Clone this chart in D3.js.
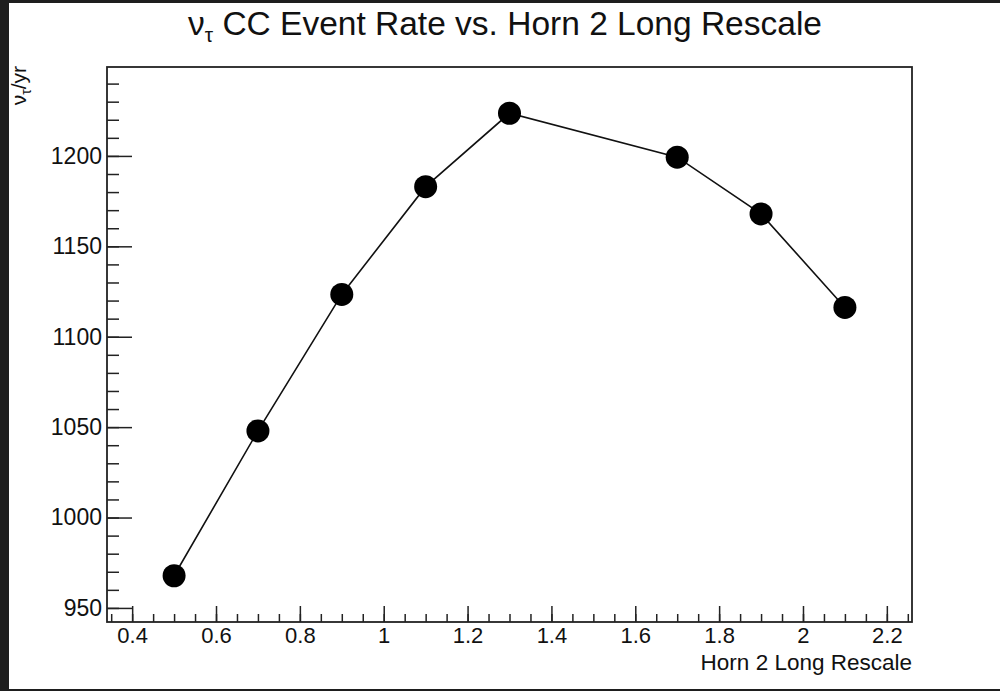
<!DOCTYPE html>
<html><head><meta charset="utf-8">
<script src="https://cdn.jsdelivr.net/npm/d3@7"></script>
<style>
html,body{margin:0;padding:0;background:#1e1e1e;}
svg{display:block;font-family:"Liberation Sans",Arial,Helvetica,sans-serif;}
</style></head>
<body>
<script>
const xValues = [0.5, 0.7, 0.9, 1.1, 1.3, 1.7, 1.9, 2.1];
const rateValues = [967.8, 1047.9, 1123.4, 1183.0, 1223.6, 1199.3, 1167.9, 1116.2];
const xTickValues = [0.4, 0.6, 0.8, 1.0, 1.2, 1.4, 1.6, 1.8, 2.0, 2.2];
const yTickValues = [950, 1000, 1050, 1100, 1150, 1200];
const titleMain = "ν";
const titleSub = "τ";
const titleRest = " CC Event Rate vs. Horn 2 Long Rescale";
const xTitle = "Horn 2 Long Rescale";

const W = 1000, H = 691;
const plot = {left: 107, right: 912, top: 67, bottom: 622};

const svg = d3.select("body").append("svg").attr("width", W).attr("height", H);
svg.append("rect").attr("x", 9).attr("y", 3).attr("width", W - 9).attr("height", 686).attr("fill", "#fff");

const xr = d3.extent(xValues), yr = d3.extent(rateValues);
const xm = (xr[1] - xr[0]) * 0.1, ym = (yr[1] - yr[0]) * 0.1;
const x = d3.scaleLinear().domain([xr[0] - xm, xr[1] + xm]).range([plot.left, plot.right]);
const y = d3.scaleLinear().domain([yr[0] - ym, yr[1] + ym]).range([plot.bottom, plot.top]);

const fmt = v => String(+v.toFixed(2));

// x minor ticks
const xMinor = d3.range(0.35, 2.2501, 0.05).map(v => +v.toFixed(2)).filter(v => v >= x.domain()[0] && v <= x.domain()[1]);
svg.append("g").attr("transform", `translate(0,${plot.bottom})`)
  .call(d3.axisBottom(x).tickValues(xMinor).tickSize(-8).tickFormat(""))
  .call(g => g.select(".domain").remove())
  .call(g => g.selectAll("line").attr("stroke", "#222").attr("stroke-width", 1.5));
svg.append("g").attr("transform", `translate(0,${plot.bottom})`)
  .call(d3.axisBottom(x).tickValues(xTickValues).tickSize(-16).tickPadding(5).tickFormat(fmt))
  .call(g => g.select(".domain").remove())
  .call(g => g.selectAll("line").attr("stroke", "#222").attr("stroke-width", 1.5))
  .call(g => g.selectAll("text").attr("font-size", 22).attr("fill", "#111").attr("font-family", "Liberation Sans, Arial, sans-serif"));

// y minor ticks
const yMinor = d3.range(950, 1250, 10).filter(v => v >= y.domain()[0] && v <= y.domain()[1]);
svg.append("g").attr("transform", `translate(${plot.left},0)`)
  .call(d3.axisLeft(y).tickValues(yMinor).tickSize(-12).tickFormat(""))
  .call(g => g.select(".domain").remove())
  .call(g => g.selectAll("line").attr("stroke", "#222").attr("stroke-width", 1.5));
svg.append("g").attr("transform", `translate(${plot.left},0)`)
  .call(d3.axisLeft(y).tickValues(yTickValues).tickSize(-25).tickPadding(5).tickFormat(fmt))
  .call(g => g.select(".domain").remove())
  .call(g => g.selectAll("line").attr("stroke", "#222").attr("stroke-width", 1.5))
  .call(g => g.selectAll("text").attr("font-size", 23).attr("fill", "#111").attr("font-family", "Liberation Sans, Arial, sans-serif"));

// frame
svg.append("rect").attr("x", plot.left).attr("y", plot.top)
  .attr("width", plot.right - plot.left).attr("height", plot.bottom - plot.top)
  .attr("fill", "none").attr("stroke", "#222").attr("stroke-width", 1.8);

// line & markers
const pts = xValues.map((v, i) => [v, rateValues[i]]);
svg.append("path").datum(pts)
  .attr("d", d3.line().x(d => x(d[0])).y(d => y(d[1])))
  .attr("fill", "none").attr("stroke", "#111").attr("stroke-width", 1.6);
svg.selectAll("circle.pt").data(pts).enter().append("circle")
  .attr("class", "pt").attr("cx", d => x(d[0])).attr("cy", d => y(d[1]))
  .attr("r", 11.5).attr("fill", "#000");

// title
const t = svg.append("text").attr("x", 505).attr("y", 35).attr("text-anchor", "middle")
  .attr("font-size", 33.5).attr("fill", "#111");
t.append("tspan").text(titleMain);
t.append("tspan").attr("font-size", 21).attr("dy", 7).text(titleSub);
t.append("tspan").attr("dy", -7).text(titleRest);

// x title
svg.append("text").attr("x", plot.right).attr("y", 670).attr("text-anchor", "end")
  .attr("font-size", 22.5).attr("fill", "#111").text(xTitle);

// y title
const yt = svg.append("text").attr("transform", `translate(26,${plot.top - 1}) rotate(-90)`)
  .attr("text-anchor", "end").attr("font-size", 21).attr("fill", "#111");
yt.append("tspan").text("ν");
yt.append("tspan").attr("font-size", 14).attr("dy", 5).text("τ");
yt.append("tspan").attr("dy", -5).text("/yr");
</script>
</body></html>
